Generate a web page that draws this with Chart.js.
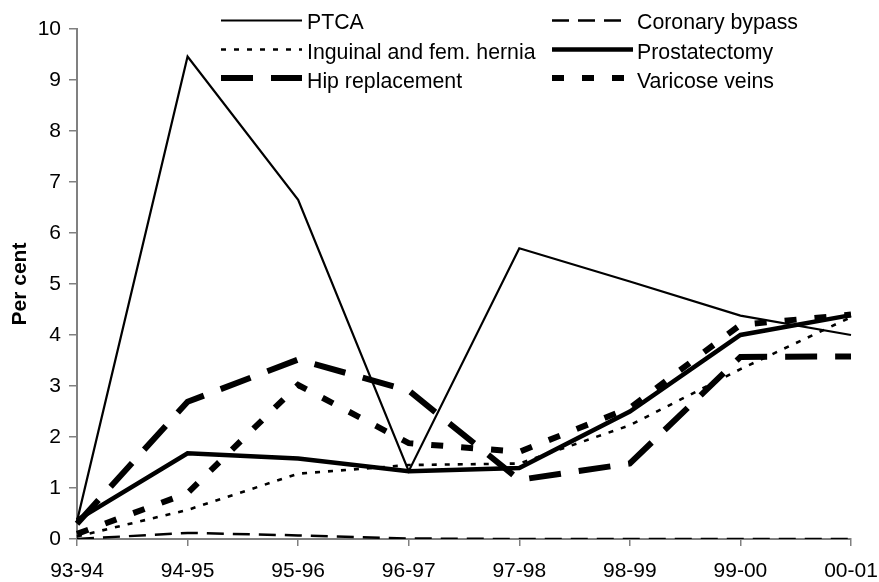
<!DOCTYPE html>
<html>
<head>
<meta charset="utf-8">
<script src="https://cdn.jsdelivr.net/npm/chart.js@4.4.1/dist/chart.umd.min.js"></script>
<style>
html,body{margin:0;padding:0;background:#fff;}
#wrap{width:879px;height:582px;position:relative;}
</style>
</head>
<body>
<div id="wrap"><canvas id="c" width="879" height="582"></canvas></div>
<script>
const categories = ['93-94','94-95','95-96','96-97','97-98','98-99','99-00','00-01'];
const ptca          = [0.35, 9.46, 6.65, 1.33, 5.70, 5.05, 4.38, 4.00];
const coronaryBypass= [0.00, 0.12, 0.07, 0.01, 0.00, 0.00, 0.00, 0.00];
const hernia        = [0.05, 0.57, 1.28, 1.45, 1.48, 2.23, 3.33, 4.35];
const prostatectomy = [0.37, 1.68, 1.58, 1.33, 1.39, 2.50, 4.00, 4.39];
const hipReplacement= [0.30, 2.69, 3.52, 2.91, 1.16, 1.48, 3.57, 3.58];
const varicoseVeins = [0.10, 0.90, 3.02, 1.88, 1.71, 2.57, 4.20, 4.40];
const yTicks = [0,1,2,3,4,5,6,7,8,9,10];
const seriesNames = ['PTCA','Coronary bypass','Inguinal and fem. hernia','Prostatectomy','Hip replacement','Varicose veins'];

const FONT = "'Liberation Sans', Arial, sans-serif";
const styles = [
  {w:2.2, dash:[]},
  {w:2.5, dash:[17,9]},
  {w:2.6, dash:[5,8]},
  {w:4.5, dash:[]},
  {w:6, dash:[32,18]},
  {w:6, dash:[12,18]}
];
const seriesData = [ptca, coronaryBypass, hernia, prostatectomy, hipReplacement, varicoseVeins];

const datasets = seriesData.map((d,i)=>({
  label: seriesNames[i],
  data: d,
  borderColor: '#000',
  backgroundColor: '#000',
  borderWidth: styles[i].w,
  borderDash: styles[i].dash,
  borderCapStyle: 'butt',
  borderJoinStyle: 'miter',
  pointRadius: 0,
  tension: 0,
  fill: false
}));

const legendPlugin = {
  id: 'customLegend',
  afterDraw(chart){
    const ctx = chart.ctx;
    const entries = [
      {i:0, x1:221, x2:302, tx:307, ly:20.5, by:29},
      {i:2, x1:221, x2:302, tx:307, ly:49.5, by:58.5},
      {i:4, x1:221, x2:302, tx:307, ly:78, by:88},
      {i:1, x1:552, x2:627, tx:637, ly:20.5, by:29},
      {i:3, x1:552, x2:633, tx:637, ly:49.5, by:58.5},
      {i:5, x1:552, x2:627, tx:637, ly:78, by:88}
    ];
    ctx.save();
    entries.forEach(e=>{
      const s = styles[e.i];
      ctx.beginPath();
      ctx.setLineDash(s.dash);
      ctx.lineWidth = s.w;
      ctx.strokeStyle = '#000';
      ctx.lineCap = 'butt';
      ctx.moveTo(e.x1, e.ly);
      ctx.lineTo(e.x2, e.ly);
      ctx.stroke();
      ctx.setLineDash([]);
      ctx.fillStyle = '#000';
      ctx.font = '21.3px ' + FONT;
      ctx.textBaseline = 'alphabetic';
      ctx.textAlign = 'left';
      ctx.fillText(seriesNames[e.i], e.tx, e.by);
    });
    ctx.restore();
  }
};

new Chart(document.getElementById('c'), {
  type: 'line',
  data: { labels: categories, datasets: datasets },
  options: {
    responsive: false,
    animation: false,
    events: [],
    layout: { padding: { top: 29, right: 28, left: 0, bottom: 0 } },
    plugins: { legend: { display: false }, tooltip: { enabled: false }, title: { display: false } },
    scales: {
      x: {
        type: 'category',
        offset: false,
        afterFit(s){ s.height = 43; s.paddingLeft = 0; s.paddingRight = 0; },
        grid: { drawOnChartArea: false, drawTicks: true, tickLength: 7, color: '#808080', lineWidth: 1.5 },
        border: { display: true, color: '#808080', width: 2 },
        ticks: { color: '#000', font: { family: FONT, size: 21 }, padding: 13, maxRotation: 0, autoSkip: false }
      },
      y: {
        min: 0, max: 10,
        afterFit(s){ s.width = 77; s.paddingTop = 0; s.paddingBottom = 0; },
        afterBuildTicks(s){ s.ticks = yTicks.map(v=>({value:v})); },
        grid: { drawOnChartArea: false, drawTicks: true, tickLength: 8, color: '#808080', lineWidth: 1.5 },
        border: { display: true, color: '#808080', width: 2 },
        ticks: { color: '#000', font: { family: FONT, size: 21 }, padding: 8, stepSize: 1 },
        title: { display: true, text: 'Per cent', color: '#000', font: { family: FONT, size: 21, weight: 'bold' }, padding: { top: 8, bottom: 0 } }
      }
    }
  },
  plugins: [legendPlugin]
});
</script>
</body>
</html>
